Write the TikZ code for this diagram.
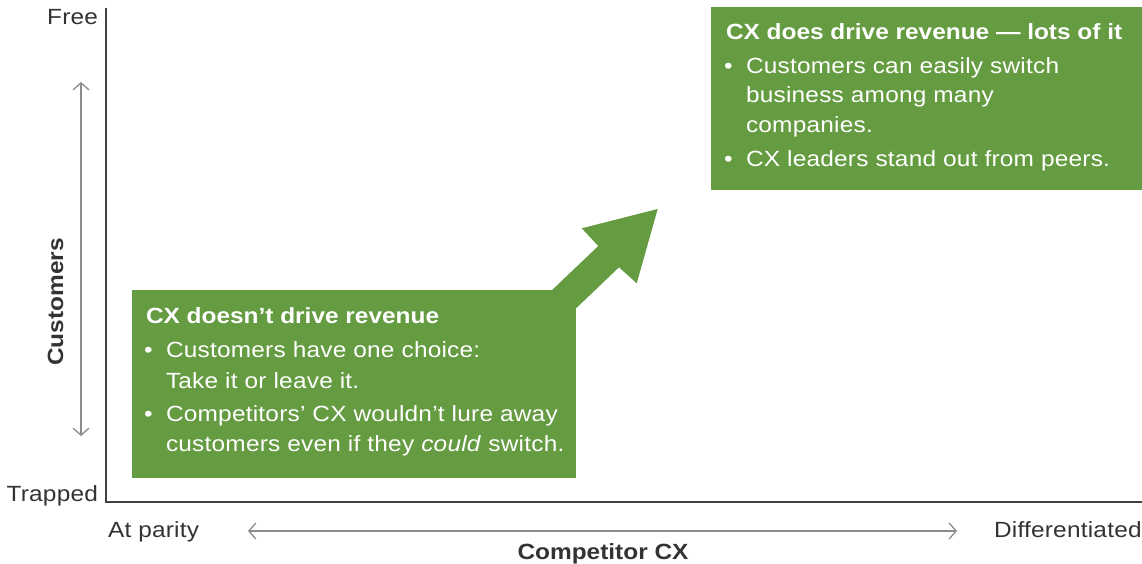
\documentclass[tikz,border=0pt]{standalone}
\usepackage{fontspec}
\setmainfont{Liberation Sans}[FakeStretch=1.11,LetterSpace=1,BoldFeatures={LetterSpace=0}]
\usetikzlibrary{arrows.meta}
\definecolor{cxgreen}{HTML}{659B41}
\definecolor{axisgray}{HTML}{404040}
\definecolor{arrgray}{HTML}{8C8C8C}
\definecolor{txtgray}{HTML}{333333}
\tikzset{
  txt/.style={inner sep=0pt,outer sep=0pt,font=\fontsize{22}{26}\selectfont},
  axlabel/.style={txt,text=txtgray,anchor=base west},
  boxtxt/.style={txt,text=white,anchor=base west},
  bulletdot/.style={txt,text=white,anchor=base},
  greenbox/.style={fill=cxgreen,draw=none,inner sep=0pt,outer sep=0pt,anchor=north west},
  axisline/.style={draw=axisgray,line width=1.5pt},
  spanarrow/.style={draw=arrgray,line width=1.3pt,{Straight Barb[length=7pt,width=16pt]}-{Straight Barb[length=7pt,width=16pt]}}
}
\begin{document}
\begin{tikzpicture}[x=1pt,y=-1pt]
\useasboundingbox (0,0) rectangle (1142,564);
% axes
\coordinate (top) at (106,8);
\coordinate (origin) at (106,502);
\coordinate (right) at (1142,502);
\draw[axisline] (top) -- (origin) -- (right);
\node[axlabel,anchor=base east] (free) at (98,25) {Free};
\node[axlabel,anchor=base east] (trapped) at (98,501) {Trapped};
\node[axlabel] (parity) at (108,537) {At parity};
\node[axlabel] (diff) at (994,537) {Differentiated};
\node[axlabel,anchor=base,font=\fontsize{22}{26}\selectfont\bfseries] (cx) at (603,559) {Competitor CX};
\node[axlabel,anchor=base,rotate=90,font=\fontsize{22}{26}\selectfont\bfseries] (cust) at (63,302) {Customers};
\coordinate (vtop) at (81,82);
\coordinate (vbot) at (81,436);
\draw[spanarrow] (vtop) -- (vbot);
\coordinate (hl) at (248,531);
\coordinate (hr) at (957,531);
\draw[spanarrow] (hl) -- (hr);
% big arrow
\fill[cxgreen] (530,311) -- (598.3,246) -- (581.7,228.3) -- (657.7,209) -- (636.7,283.3) -- (619,267.3) -- (551,332.3) -- cycle;
% lower box
\node[greenbox,minimum width=444pt,minimum height=188pt] (low) at (132,290) {};
\node[boxtxt,font=\fontsize{22}{26}\selectfont\bfseries] (lt) at (146,323) {CX doesn’t drive revenue};
\node[bulletdot] (lb1) at (148.5,357) {•};
\node[boxtxt] (l1) at (166,357) {Customers have one choice:};
\node[boxtxt] (l2) at (166,388) {Take it or leave it.};
\node[bulletdot] (lb2) at (148.5,421) {•};
\node[boxtxt] (l3) at (166,421) {Competitors’ CX wouldn’t lure away};
\node[boxtxt] (l4) at (166,451) {customers even if they \textit{could} switch.};
% upper box
\node[greenbox,minimum width=431pt,minimum height=183pt] (high) at (711,7) {};
\node[boxtxt,font=\fontsize{22}{26}\selectfont\bfseries] (ht) at (726,40) {CX does drive revenue — lots of it};
\node[bulletdot] (hb1) at (728.5,74) {•};
\node[boxtxt] (h1) at (746,74) {Customers can easily switch};
\node[boxtxt] (h2) at (746,103) {business among many};
\node[boxtxt] (h3) at (746,133) {companies.};
\node[bulletdot] (hb2) at (728.5,167) {•};
\node[boxtxt] (h4) at (746,167) {CX leaders stand out from peers.};
\end{tikzpicture}
\end{document}
